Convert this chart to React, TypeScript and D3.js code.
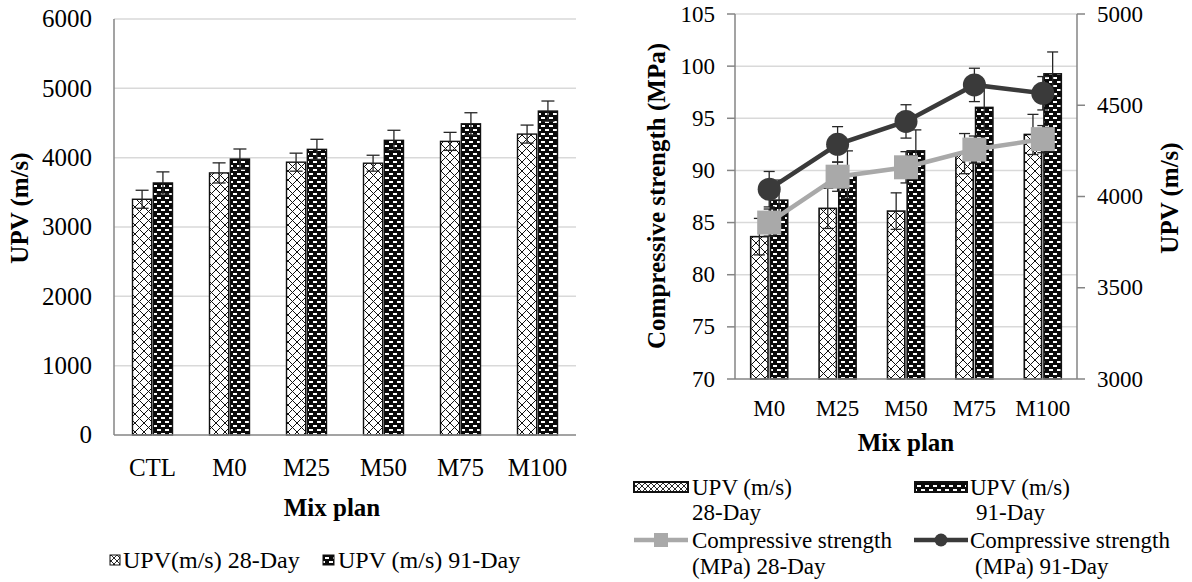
import React from "react";
import * as d3 from "d3";

// UPV (m/s) per mix, 28 and 91 days
const mixAll = ["CTL", "M0", "M25", "M50", "M75", "M100"];
const upv28 = [3400, 3780, 3935, 3920, 4235, 4340];
const upv91 = [3635, 3980, 4120, 4250, 4488, 4672];
const upv28Err = [130, 145, 130, 115, 130, 130];
const upv91Err = [160, 145, 145, 145, 160, 145];

// Second panel: mixes without control, compressive strength (MPa)
const mixRep = ["M0", "M25", "M50", "M75", "M100"];
const upv28ErrB = [100, 110, 100, 110, 110];
const upv91ErrB = [110, 130, 115, 120, 120];
const cs28 = [85.0, 89.4, 90.3, 92.0, 93.0];
const cs91 = [88.2, 92.5, 94.7, 98.2, 97.4];
const cs28Err = [1.3, 1.4, 1.5, 1.3, 1.3];
const cs91Err = [1.7, 1.7, 1.6, 1.6, 1.6];

const leftTicks = [0, 1000, 2000, 3000, 4000, 5000, 6000];
const csTicks = [70, 75, 80, 85, 90, 95, 100, 105];
const upvTicksB = [3000, 3500, 4000, 4500, 5000];

const FONT = "'Liberation Serif','Times New Roman',serif";
const GRID = "#d9d9d9";
const AXIS = "#858585";
const ERR = "#262626";
const DARK = "#3a3a3a";
const LIGHT = "#a9a9a9";

function ErrorBar({ x, y0, y1, cap }: { x: number; y0: number; y1: number; cap: number }) {
  return (
    <g stroke={ERR} strokeWidth={1.3}>
      <line x1={x} x2={x} y1={y0} y2={y1} />
      <line x1={x - cap / 2} x2={x + cap / 2} y1={y0} y2={y0} />
      <line x1={x - cap / 2} x2={x + cap / 2} y1={y1} y2={y1} />
    </g>
  );
}

function LeftPanel() {
  const x = d3.scaleBand<string>().domain(mixAll).range([114, 576]);
  const y = d3.scaleLinear().domain([0, 6000]).range([435, 19]);
  const inner = d3.scaleBand<string>().domain(["28", "91"]).range([0, 40]).paddingInner(0.08);
  const groupX = (c: string) => (x(c) as number) + x.bandwidth() / 2 - 20;
  return (
    <g>
      {leftTicks.slice(1).map((t) => (
        <line key={t} x1={114} x2={576} y1={y(t)} y2={y(t)} stroke={GRID} strokeWidth={1.5} />
      ))}
      {leftTicks.map((t) => (
        <text key={t} x={92} y={y(t)} dy="0.33em" textAnchor="end" fontSize={25} fontFamily={FONT}>
          {t}
        </text>
      ))}
      {mixAll.map((c, i) => {
        const g = groupX(c);
        const b28 = g + (inner("28") as number);
        const b91 = g + (inner("91") as number);
        const w = inner.bandwidth();
        return (
          <g key={c}>
            <rect x={b28} y={y(upv28[i])} width={w} height={y(0) - y(upv28[i])} fill="url(#pat28)" stroke="#111" strokeWidth={1.4} />
            <rect x={b91} y={y(upv91[i])} width={w} height={y(0) - y(upv91[i])} fill="url(#pat91)" stroke="#111" strokeWidth={1.4} />
            <ErrorBar x={b28 + w / 2} y0={y(upv28[i] + upv28Err[i])} y1={y(upv28[i] - upv28Err[i])} cap={13} />
            <ErrorBar x={b91 + w / 2} y0={y(upv91[i] + upv91Err[i])} y1={y(upv91[i] - upv91Err[i])} cap={13} />
            <text x={(x(c) as number) + x.bandwidth() / 2} y={468} dy="0.33em" textAnchor="middle" fontSize={25} fontFamily={FONT}>
              {c}
            </text>
          </g>
        );
      })}
      <line x1={114} x2={114} y1={19} y2={435} stroke={AXIS} strokeWidth={1.5} />
      <line x1={114} x2={576} y1={435} y2={435} stroke={AXIS} strokeWidth={1.5} />
      <text x={332} y={508} dy="0.33em" textAnchor="middle" fontSize={25} fontWeight="bold" fontFamily={FONT}>
        Mix plan
      </text>
      <text transform="translate(20,208) rotate(-90)" dy="0.33em" textAnchor="middle" fontSize={25} fontWeight="bold" fontFamily={FONT}>
        UPV (m/s)
      </text>
      {/* legend */}
      <rect x={110} y={555} width={10} height={10} fill="url(#pat28s)" stroke="#111" strokeWidth={1} />
      <text x={123} y={560} dy="0.33em" fontSize={24} fontFamily={FONT}>UPV(m/s) 28-Day</text>
      <rect x={323} y={555} width={11} height={10} fill="url(#pat91)" stroke="#111" strokeWidth={1} />
      <text x={338} y={560} dy="0.33em" fontSize={24} fontFamily={FONT}>UPV (m/s) 91-Day</text>
    </g>
  );
}

function RightPanel() {
  const x = d3.scaleBand<string>().domain(mixRep).range([735, 1077]);
  const yCs = d3.scaleLinear().domain([70, 105]).range([379, 14]);
  const yU = d3.scaleLinear().domain([3000, 5000]).range([379, 14]);
  const inner = d3.scaleBand<string>().domain(["28", "91"]).range([0, 37]).paddingInner(0.12);
  const cx = (c: string) => (x(c) as number) + x.bandwidth() / 2;
  const line = d3.line<number>().x((_, i) => cx(mixRep[i])).y((v) => yCs(v));
  const w = inner.bandwidth();
  return (
    <g>
      {csTicks.slice(1).map((t) => (
        <line key={t} x1={735} x2={1077} y1={yCs(t)} y2={yCs(t)} stroke={GRID} strokeWidth={1.5} />
      ))}
      {csTicks.map((t) => (
        <g key={t}>
          <line x1={727} x2={735} y1={yCs(t)} y2={yCs(t)} stroke={AXIS} strokeWidth={1.5} />
          <text x={715} y={yCs(t)} dy="0.33em" textAnchor="end" fontSize={23} fontFamily={FONT}>{t}</text>
        </g>
      ))}
      {upvTicksB.map((t) => (
        <g key={t}>
          <line x1={1077} x2={1085} y1={yU(t)} y2={yU(t)} stroke={AXIS} strokeWidth={1.5} />
          <text x={1097} y={yU(t)} dy="0.33em" textAnchor="start" fontSize={23} fontFamily={FONT}>{t}</text>
        </g>
      ))}
      {mixRep.map((c, i) => {
        const g = cx(c) - 18.5;
        const b28 = g + (inner("28") as number);
        const b91 = g + (inner("91") as number);
        const v28 = upv28[i + 1];
        const v91 = upv91[i + 1];
        return (
          <g key={c}>
            <rect x={b28} y={yU(v28)} width={w} height={yU(3000) - yU(v28)} fill="url(#pat28)" stroke="#111" strokeWidth={1.6} />
            <rect x={b91} y={yU(v91)} width={w} height={yU(3000) - yU(v91)} fill="url(#pat91)" stroke="#111" strokeWidth={1.6} />
            <ErrorBar x={b28 + w / 2} y0={yU(v28 + upv28ErrB[i])} y1={yU(v28 - upv28ErrB[i])} cap={11} />
            <ErrorBar x={b91 + w / 2} y0={yU(v91 + upv91ErrB[i])} y1={yU(v91 - upv91ErrB[i])} cap={11} />
            <text x={cx(c)} y={408} dy="0.33em" textAnchor="middle" fontSize={23} fontFamily={FONT}>{c}</text>
          </g>
        );
      })}
      <line x1={735} x2={735} y1={14} y2={379} stroke={AXIS} strokeWidth={1.5} />
      <line x1={1077} x2={1077} y1={14} y2={379} stroke={AXIS} strokeWidth={1.5} />
      <line x1={735} x2={1077} y1={379} y2={379} stroke={AXIS} strokeWidth={1.5} />

      {/* 28-day compressive strength */}
      <path d={line(cs28) as string} fill="none" stroke={LIGHT} strokeWidth={4.5} />
      {cs28.map((v, i) => (
        <ErrorBar key={"e28" + i} x={cx(mixRep[i])} y0={yCs(v + cs28Err[i])} y1={yCs(v - cs28Err[i])} cap={11} />
      ))}
      {cs28.map((v, i) => (
        <rect key={"m28" + i} x={cx(mixRep[i]) - 12} y={yCs(v) - 12} width={24} height={24} fill={LIGHT} />
      ))}

      {/* 91-day compressive strength */}
      <path d={line(cs91) as string} fill="none" stroke={DARK} strokeWidth={4.5} />
      {cs91.map((v, i) => (
        <ErrorBar key={"e91" + i} x={cx(mixRep[i])} y0={yCs(v + cs91Err[i])} y1={yCs(v - cs91Err[i])} cap={11} />
      ))}
      {cs91.map((v, i) => (
        <circle key={"m91" + i} cx={cx(mixRep[i])} cy={yCs(v)} r={11.5} fill={DARK} />
      ))}

      <text x={906} y={443} dy="0.33em" textAnchor="middle" fontSize={25} fontWeight="bold" fontFamily={FONT}>Mix plan</text>
      <text transform="translate(657,196) rotate(-90)" dy="0.33em" textAnchor="middle" fontSize={25} fontWeight="bold" fontFamily={FONT}>
        Compressive strength (MPa)
      </text>
      <text transform="translate(1170,198) rotate(-90)" dy="0.33em" textAnchor="middle" fontSize={25} fontWeight="bold" fontFamily={FONT}>
        UPV (m/s)
      </text>

      {/* legend */}
      <g fontSize={23} fontFamily={FONT}>
        <rect x={634} y={482} width={54} height={10} fill="url(#pat28s)" stroke="#111" strokeWidth={2} />
        <text x={692} y={487} dy="0.33em">UPV (m/s)</text>
        <text x={692} y={512} dy="0.33em">28-Day</text>
        <rect x={915} y={482} width={52} height={10} fill="url(#pat91)" stroke="#111" strokeWidth={2} />
        <text x={970} y={487} dy="0.33em">UPV (m/s)</text>
        <text x={976} y={512} dy="0.33em">91-Day</text>

        <line x1={634} x2={688} y1={540} y2={540} stroke={LIGHT} strokeWidth={4.5} />
        <rect x={654} y={533} width={14} height={14} fill={LIGHT} />
        <text x={692} y={540} dy="0.33em">Compressive strength</text>
        <text x={692} y={566} dy="0.33em"> (MPa) 28-Day</text>
        <line x1={914} x2={968} y1={540} y2={540} stroke={DARK} strokeWidth={4.5} />
        <circle cx={941} cy={540} r={6.5} fill={DARK} />
        <text x={970} y={540} dy="0.33em">Compressive strength</text>
        <text x={975} y={566} dy="0.33em">(MPa) 91-Day</text>
      </g>
    </g>
  );
}

export default function App() {
  return (
    <svg width={1192} height={582} style={{ position: "absolute", left: 0, top: 0, background: "#fff" }}>
      <defs>
        <pattern id="pat28" width={9} height={9} patternUnits="userSpaceOnUse">
          <rect width={9} height={9} fill="#fff" />
          <path d="M0,0 L9,9 M9,0 L0,9" stroke="#111" strokeWidth={1} />
        </pattern>
        <pattern id="pat28s" width={6} height={6} patternUnits="userSpaceOnUse">
          <rect width={6} height={6} fill="#fff" />
          <path d="M0,0 L6,6 M6,0 L0,6" stroke="#111" strokeWidth={0.9} />
        </pattern>
        <pattern id="pat91" width={8} height={8} patternUnits="userSpaceOnUse">
          <rect width={8} height={8} fill="#0a0a0a" />
          <rect x={1} y={1} width={4} height={2} fill="#fff" />
          <rect x={5} y={5} width={3} height={2} fill="#fff" />
          <rect x={0} y={5} width={1} height={2} fill="#fff" />
        </pattern>
      </defs>
      <rect width={1192} height={582} fill="#fff" />
      <LeftPanel />
      <RightPanel />
    </svg>
  );
}
